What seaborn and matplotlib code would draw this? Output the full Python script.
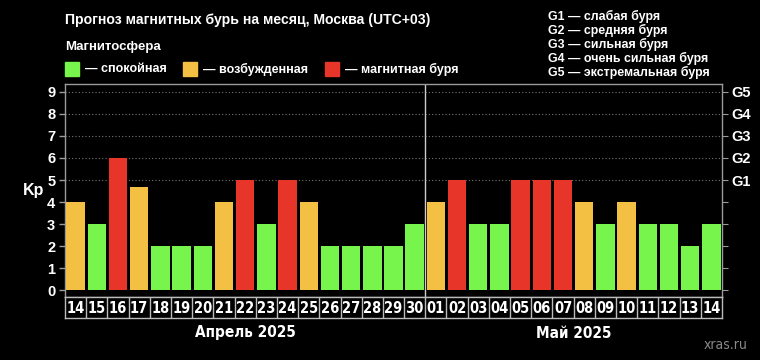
import matplotlib
matplotlib.use("Agg")
import numpy as np
import pandas as pd
import matplotlib.pyplot as plt
import seaborn as sns
from matplotlib import font_manager

# ─────────────────────────────────────────────
# DATA
# ─────────────────────────────────────────────
days = ["14", "15", "16", "17", "18", "19", "20", "21", "22", "23", "24", "25",
        "26", "27", "28", "29", "30",
        "01", "02", "03", "04", "05", "06", "07", "08", "09", "10", "11", "12",
        "13", "14"]
kp = [4, 3, 6, 4.67, 2, 2, 2, 4, 5, 3, 5, 4,
      2, 2, 2, 2, 3,
      4, 5, 3, 3, 5, 5, 5, 4, 3, 4, 3, 3, 2, 3]
status = ["в", "с", "б", "в", "с", "с", "с", "в", "б", "с", "б", "в",
          "с", "с", "с", "с", "с",
          "в", "б", "с", "с", "б", "б", "б", "в", "с", "в", "с", "с", "с", "с"]
months = ["Апрель 2025", "Май 2025"]
month_len = [17, 14]
g_levels = ["G1", "G2", "G3", "G4", "G5"]
g_names = ["слабая буря", "средняя буря", "сильная буря",
           "очень сильная буря", "экстремальная буря"]
legend_names = ["спокойная", "возбужденная", "магнитная буря"]

# ─────────────────────────────────────────────
# STYLE
# ─────────────────────────────────────────────
sns.set_style("dark")
plt.rcParams["font.family"] = ["Liberation Sans", "DejaVu Sans"]
GREEN, ORANGE, RED = "#77f54c", "#f4c043", "#e8352a"
palette = {"с": GREEN, "в": ORANGE, "б": RED}
FRAME = "#9a9a9a"

# condensed bold font for the date cells, if one is around
installed = {f.name for f in font_manager.fontManager.ttflist}
if "Liberation Sans Narrow" in installed:
    NARROW = dict(family="Liberation Sans Narrow")
else:
    NARROW = dict(family="DejaVu Sans", stretch="condensed")

df = pd.DataFrame({"pos": np.arange(len(days)), "kp": kp, "status": status})

fig = plt.figure(figsize=(7.6, 3.6), dpi=100, facecolor="black")
L, R, B, T = 65 / 760, 722 / 760, 1 - 297 / 360, 1 - 84 / 360
ax = fig.add_axes([L, B, R - L, T - B])
ax.set_facecolor("black")

sns.barplot(data=df, x="pos", y="kp", hue="status", palette=palette,
            dodge=False, width=0.87, legend=False, ax=ax, zorder=3,
            linewidth=0, saturation=1)

ax.set_xlim(-0.5, len(days) - 0.5)
ax.set_ylim(-0.3, 9.35)
ax.set_yticks(range(10))
ax.set_xticks([])
ax.set_xlabel("")
ax.set_ylabel("Kp", color="white", fontsize=11.5, fontweight="bold",
              rotation=0, labelpad=10, va="center")
ax.tick_params(axis="y", colors="white", labelsize=10.5, length=4,
               width=1, pad=3)
for lab in ax.get_yticklabels():
    lab.set_fontweight("bold")
ax.tick_params(axis="y", color=FRAME)
ax.grid(False)
for lvl in range(5, 10):
    ax.axhline(lvl, color="#777777", lw=0.8, ls=(0, (1, 2)), zorder=1)
for sp in ax.spines.values():
    sp.set_color(FRAME)
    sp.set_linewidth(1)
# month separator
ax.axvline(month_len[0] - 0.5, color="#cccccc", lw=1, zorder=2)

# right G axis
ax_r = ax.twinx()
ax_r.set_ylim(ax.get_ylim())
ax_r.set_yticks(range(10))
ax_r.set_yticklabels([""] * 5 + g_levels)
ax_r.tick_params(axis="y", colors="white", labelsize=10.5, length=4, pad=3)
ax_r.tick_params(axis="y", color=FRAME)
for lab in ax_r.get_yticklabels():
    lab.set_fontweight("bold")
for sp in ax_r.spines.values():
    sp.set_visible(False)
ax_r.grid(False)

# date cells under the axes
axd = fig.add_axes([L, 1 - 318 / 360, R - L, 21 / 360])
axd.set_facecolor("black")
axd.set_xlim(ax.get_xlim())
axd.set_ylim(0, 1)
axd.set_xticks([])
axd.set_yticks([])
for sp in axd.spines.values():
    sp.set_color("#bbbbbb")
    sp.set_linewidth(1)
for i in range(1, len(days)):
    axd.axvline(i - 0.5, color="#bbbbbb", lw=1)
for i, d in enumerate(days):
    axd.text(i, 0.47, d, color="white", ha="center", va="center",
             fontsize=10.5, fontweight="bold", **NARROW)

# month labels
x0 = L * 760
cell = (R - L) * 760 / len(days)
start = 0
for m, n in zip(months, month_len):
    cx = x0 + (start + n / 2) * cell
    fig.text(cx / 760, 1 - 333 / 360, m, color="white", ha="center",
             va="center", fontsize=11, fontweight="bold", **NARROW)
    start += n

# title and legend
fig.text(65 / 760, 1 - 20 / 360, "Прогноз магнитных бурь на месяц, Москва (UTC+03)",
         color="white", fontsize=10.1, fontweight="bold", va="center")
fig.text(65 / 760, 1 - 47 / 360, "Магнитосфера", color="white", fontsize=9.5,
         fontweight="bold", va="center")
for xs, col, name in zip([65, 183, 325], [GREEN, ORANGE, RED], legend_names):
    fig.patches.append(plt.Rectangle((xs / 760, 1 - 76 / 360), 14 / 760, 14 / 360,
                                     color=col, transform=fig.transFigure))
    fig.text((xs + 20) / 760, 1 - 69 / 360, "— " + name, color="white",
             fontsize=9, fontweight="bold", va="center")

for k, (g, nm) in enumerate(zip(g_levels, g_names)):
    fig.text(548 / 760, 1 - (16 + 14 * k) / 360, f"{g} — {nm}", color="white",
             fontsize=8.9, fontweight="bold", va="center")

fig.text(748 / 760, 1 - 345 / 360, "xras.ru", color="#888888", ha="right",
         va="center", fontsize=10, **NARROW)

fig.savefig("out.png", dpi=100, facecolor="black")
